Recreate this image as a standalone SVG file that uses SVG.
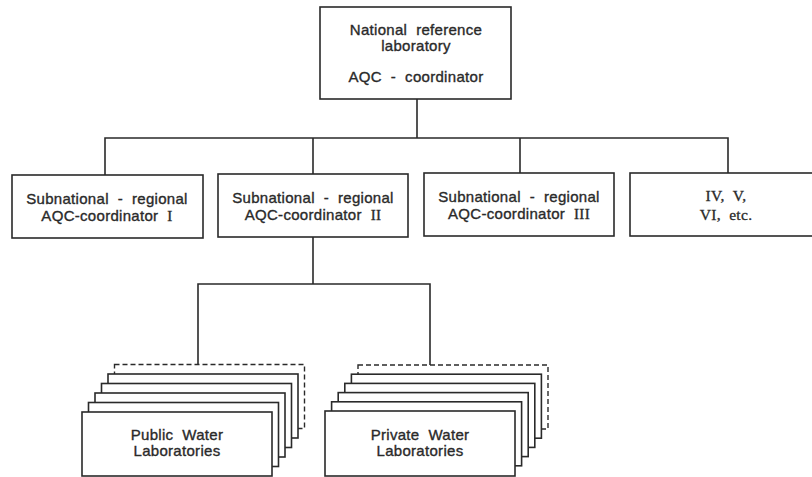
<svg xmlns="http://www.w3.org/2000/svg" width="812" height="477" viewBox="0 0 812 477">
<style>
.box{fill:#fff;stroke:#2a2a2a;stroke-width:1.6}
.dash{fill:#fff;stroke:#2a2a2a;stroke-width:1.4;stroke-dasharray:5 3}
.ln{fill:none;stroke:#2a2a2a;stroke-width:1.6}
text{white-space:pre}
.t{font-family:"Liberation Sans",Arial,sans-serif;font-size:15px;letter-spacing:0.3px;fill:#2a2a2a;stroke:#2a2a2a;stroke-width:0.35;text-anchor:middle}
.s{font-family:"Liberation Serif","Times New Roman",serif;font-size:15.5px;letter-spacing:0.3px;fill:#2a2a2a;stroke:#2a2a2a;stroke-width:0.3;text-anchor:middle}
.r{font-family:"Liberation Serif","Times New Roman",serif}
</style>
<rect width="812" height="477" fill="#fff"/>
<g id="connectors">
<path class="ln" d="M417 99V138M105 175V138H728V173M313 138V174M520 138V173"/>
<path class="ln" d="M313 237V284M198 365V284H430V365"/>
</g>
<g id="national">
<rect class="box" x="320" y="7" width="191" height="92"/>
<text class="t" x="416" y="35" xml:space="preserve">National  reference</text>
<text class="t" x="416" y="51">laboratory</text>
<text class="t" x="416" y="82" xml:space="preserve">AQC  -  coordinator</text>
</g>
<g id="sub1">
<rect class="box" x="12" y="175" width="191" height="63"/>
<text class="t" x="107" y="204" xml:space="preserve">Subnational  -  regional</text>
<text class="t" x="107" y="221" xml:space="preserve">AQC-coordinator  <tspan class="r">I</tspan></text>
</g>
<g id="sub2">
<rect class="box" x="218" y="174" width="190" height="63"/>
<text class="t" x="313" y="203" xml:space="preserve">Subnational  -  regional</text>
<text class="t" x="313" y="220" xml:space="preserve">AQC-coordinator  <tspan class="r">II</tspan></text>
</g>
<g id="sub3">
<rect class="box" x="424" y="173" width="190" height="63"/>
<text class="t" x="519" y="202" xml:space="preserve">Subnational  -  regional</text>
<text class="t" x="519" y="219" xml:space="preserve">AQC-coordinator  <tspan class="r">III</tspan></text>
</g>
<g id="others">
<rect class="box" x="630" y="173" width="190" height="63"/>
<text class="s" x="726" y="201" xml:space="preserve">IV,  V,</text>
<text class="s" x="726" y="220" xml:space="preserve">VI,  etc.</text>
</g>
<g id="public">
<rect class="dash" x="114.5" y="364.5" width="190" height="64"/>
<rect class="box" x="108" y="374" width="190" height="64"/>
<rect class="box" x="101.5" y="383.5" width="190" height="64"/>
<rect class="box" x="95" y="393" width="190" height="64"/>
<rect class="box" x="88.5" y="402.5" width="190" height="64"/>
<rect class="box" x="82" y="412" width="190" height="64"/>
<text class="t" x="177" y="440" xml:space="preserve">Public  Water</text>
<text class="t" x="177" y="456">Laboratories</text>
</g>
<g id="private">
<rect class="dash" x="358" y="365" width="190" height="64"/>
<rect class="box" x="351.4" y="374.2" width="190" height="64"/>
<rect class="box" x="344.8" y="383.4" width="190" height="64"/>
<rect class="box" x="338.2" y="392.6" width="190" height="64"/>
<rect class="box" x="331.6" y="401.8" width="190" height="64"/>
<rect class="box" x="325" y="411" width="190" height="65"/>
<text class="t" x="420" y="440" xml:space="preserve">Private  Water</text>
<text class="t" x="420" y="456">Laboratories</text>
</g>
</svg>
